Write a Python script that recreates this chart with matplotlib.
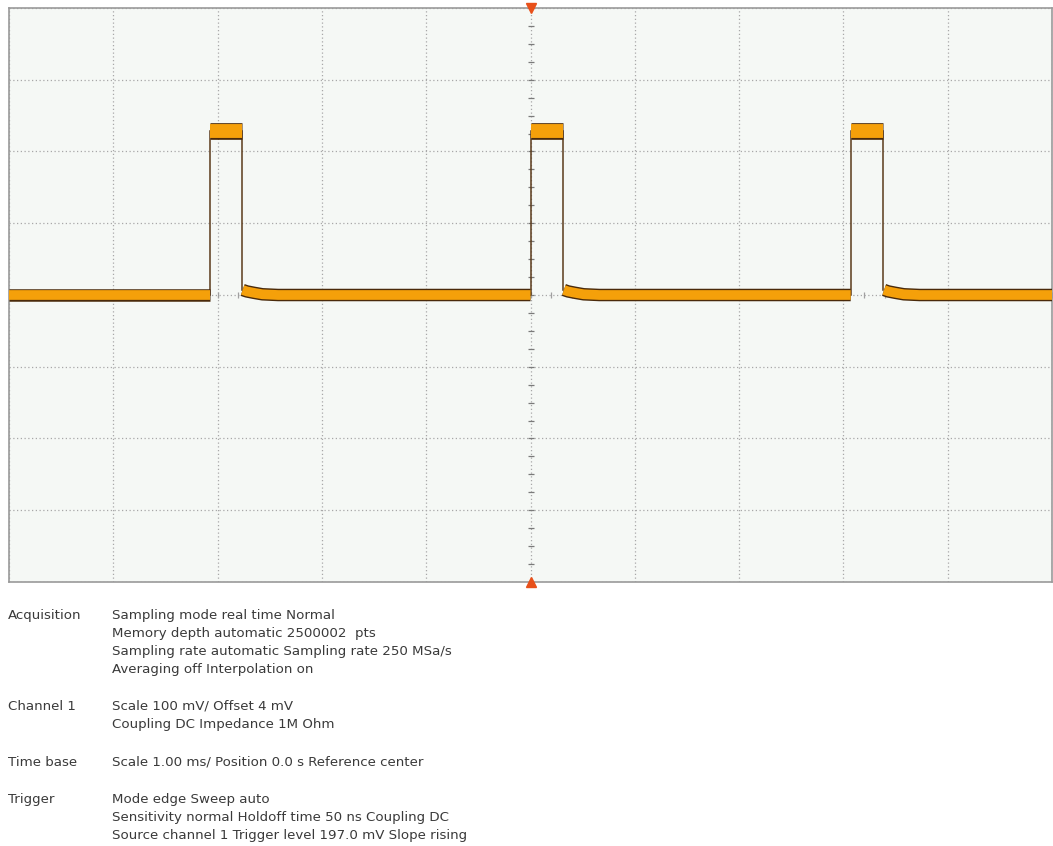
import numpy as np
import matplotlib.pyplot as plt
import matplotlib.patheffects as pe

# channel / timebase settings
scale_mv = 100
offset_mv = 4
time_div_ms = 1.0
n_xdiv, n_ydiv = 10, 8

# pulse edges (ms) and levels (mV)
rise_ms = [-3.07, 0.0, 3.07]
fall_ms = [-2.77, 0.31, 3.38]
low_mv = 4
high_mv = 232
# small overshoot right after each falling edge
tail_dt_ms = [0.01, 0.05, 0.12, 0.2, 0.35]
tail_mv = [7, 5, 3, 1, 0]

info = [
    ('Acquisition', ['Sampling mode real time Normal',
                     'Memory depth automatic 2500002  pts',
                     'Sampling rate automatic Sampling rate 250 MSa/s',
                     'Averaging off Interpolation on']),
    ('Channel 1', ['Scale 100 mV/ Offset 4 mV',
                   'Coupling DC Impedance 1M Ohm']),
    ('Time base', ['Scale 1.00 ms/ Position 0.0 s Reference center']),
    ('Trigger', ['Mode edge Sweep auto',
                 'Sensitivity normal Holdoff time 50 ns Coupling DC',
                 'Source channel 1 Trigger level 197.0 mV Slope rising']),
]

W, H = 1053, 846
fig = plt.figure(figsize=(W / 100, H / 100), dpi=100)
ax = fig.add_axes([9 / W, 1 - 582 / H, 1043 / W, 574 / H])
ax.set_facecolor('#f5f8f5')

x0, x1 = -n_xdiv / 2 * time_div_ms, n_xdiv / 2 * time_div_ms
y0, y1 = offset_mv - n_ydiv / 2 * scale_mv, offset_mv + n_ydiv / 2 * scale_mv
ax.set_xlim(x0, x1)
ax.set_ylim(y0, y1)

# graticule
ax.set_xticks(np.arange(x0, x1 + 1e-9, time_div_ms))
ax.set_yticks(np.arange(y0, y1 + 1e-9, scale_mv))
ax.grid(True, linestyle=(0, (1, 2)), color='#a8a8a8', linewidth=0.9)
ax.tick_params(length=0, labelbottom=False, labelleft=False)
for s in ax.spines.values():
    s.set_color('#9a9a9a')
    s.set_linewidth(1.2)

# minor ticks on the centre axes
ax.plot(np.zeros(33), np.arange(y0, y1 + 1e-9, scale_mv / 4), '_', color='#7a7a7a',
        markersize=5, markeredgewidth=0.9, zorder=2)
ax.plot(np.arange(x0, x1 + 1e-9, time_div_ms / 5), np.full(51, offset_mv), '|',
        color='#a0a0a0', markersize=5, markeredgewidth=0.9, zorder=2)

# trace: thick orange segments with a dark rim, thin dark edges
rim = '#4a2a0a'
band = dict(color='#f5a00a', linewidth=7, solid_capstyle='butt', zorder=4,
            path_effects=[pe.Stroke(linewidth=9, foreground=rim), pe.Normal()])
top_band = dict(band, linewidth=10,
                path_effects=[pe.Stroke(linewidth=12, foreground=rim), pe.Normal()])
edge = dict(color='#5a3a1a', linewidth=1.1, zorder=3)

starts = [x0] + fall_ms
ends = rise_ms + [x1]
for i, (a, b) in enumerate(zip(starts, ends)):
    if i == 0:
        ax.plot([a, b], [low_mv, low_mv], **band)
    else:
        tx = [a + d for d in tail_dt_ms] + [b]
        ty = [low_mv + t for t in tail_mv] + [low_mv]
        ax.plot(tx, ty, **band)
for r, f in zip(rise_ms, fall_ms):
    ax.plot([r, f], [high_mv, high_mv], **top_band)
    ax.plot([r, r], [low_mv, high_mv], **edge)
    ax.plot([f, f], [high_mv, low_mv + tail_mv[0]], **edge)

# trigger position markers
ax.plot(0, y1, marker='v', color='#e8501a', markersize=7, clip_on=False, zorder=6)
ax.plot(0, y0, marker='^', color='#e8501a', markersize=7, clip_on=False, zorder=6)

# settings summary
y_px = [615, 706, 762, 799]
for (label, lines), yp in zip(info, y_px):
    fig.text(8 / W, 1 - yp / H, label, fontsize=9.6, color='#3a3a3a', va='center')
    for k, line in enumerate(lines):
        fig.text(112 / W, 1 - (yp + 18.3 * k) / H, line, fontsize=9.6,
                 color='#3a3a3a', va='center')

fig.savefig('out.png', dpi=100)
